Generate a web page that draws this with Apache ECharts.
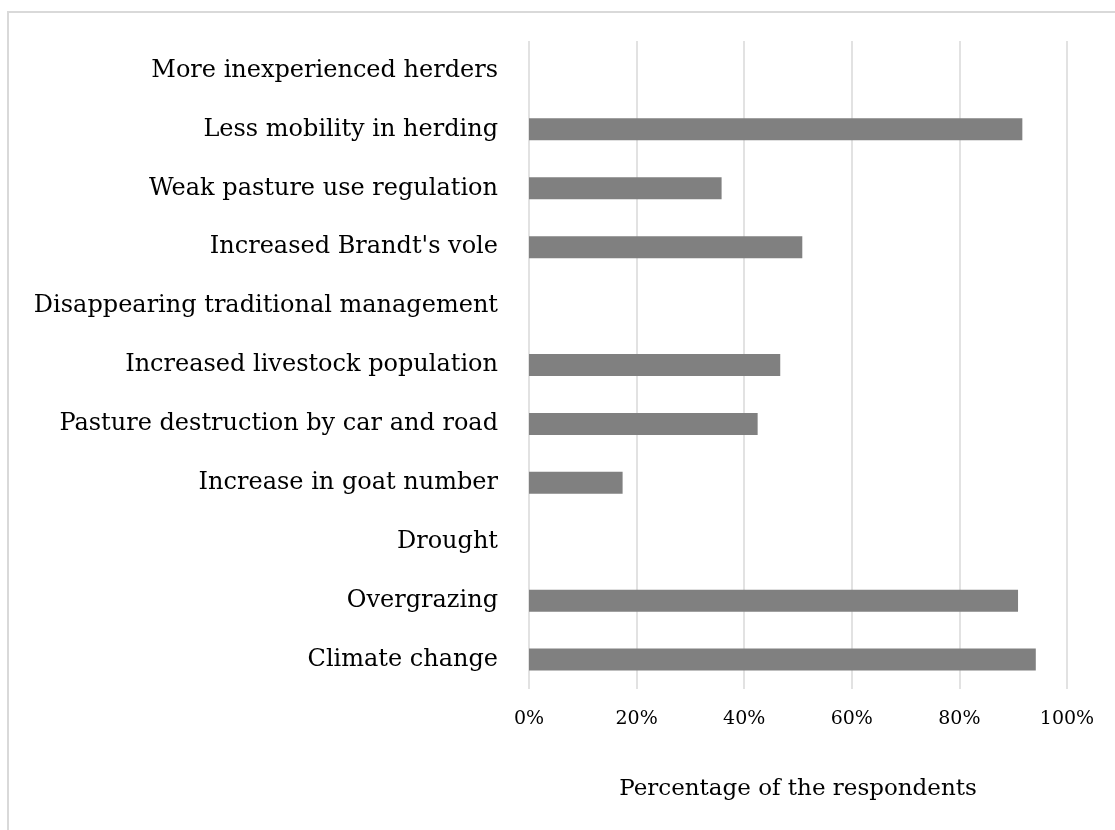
<!DOCTYPE html>
<html>
<head>
<meta charset="utf-8">
<script src="https://cdn.jsdelivr.net/npm/echarts@6/dist/echarts.min.js"></script>
<style>
html,body{margin:0;padding:0;background:#fff;}
#chart{width:1115px;height:830px;}
</style>
</head>
<body>
<div id="chart"></div>
<script>
const categories = [
  "Climate change",
  "Overgrazing",
  "Drought",
  "Increase in goat number",
  "Pasture destruction by car and road",
  "Increased livestock population",
  "Disappearing traditional management",
  "Increased Brandt's vole",
  "Weak pasture use regulation",
  "Less mobility in herding",
  "More inexperienced herders"
];
const values = [94.2, 90.9, 0, 17.4, 42.5, 46.7, 0, 50.8, 35.8, 91.7, 0];
const xTicks = [0, 20, 40, 60, 80, 100];
const axisTitle = "Percentage of the respondents";

const chart = echarts.init(document.getElementById('chart'), null, {renderer: 'canvas'});
const font = 'DejaVu Serif';
chart.setOption({
  backgroundColor: '#fff',
  animation: false,
  graphic: [{
    type: 'rect',
    shape: {x: 8, y: 12, width: 1200, height: 900},
    style: {fill: 'none', stroke: '#d9d9d9', lineWidth: 2},
    silent: true
  }],
  grid: {left: 529, right: 48, top: 41, bottom: 141, containLabel: false},
  xAxis: {
    type: 'value',
    min: xTicks[0],
    max: xTicks[xTicks.length - 1],
    interval: xTicks[1] - xTicks[0],
    axisLine: {show: false},
    axisTick: {show: false},
    splitLine: {show: true, lineStyle: {color: '#d9d9d9', width: 1.5}},
    axisLabel: {formatter: '{value}%', color: '#000', fontFamily: font, fontSize: 19, margin: 21},
    name: axisTitle,
    nameLocation: 'middle',
    nameGap: 89,
    nameTextStyle: {color: '#000', fontFamily: font, fontSize: 23, verticalAlign: 'top'}
  },
  yAxis: {
    type: 'category',
    data: categories,
    axisLine: {show: false},
    axisTick: {show: false},
    splitLine: {show: false},
    axisLabel: {color: '#000', fontFamily: font, fontSize: 24, margin: 31, interval: 0}
  },
  series: [{
    type: 'bar',
    data: values,
    barWidth: 22,
    itemStyle: {color: '#808080'},
    silent: true
  }]
});
</script>
</body>
</html>
